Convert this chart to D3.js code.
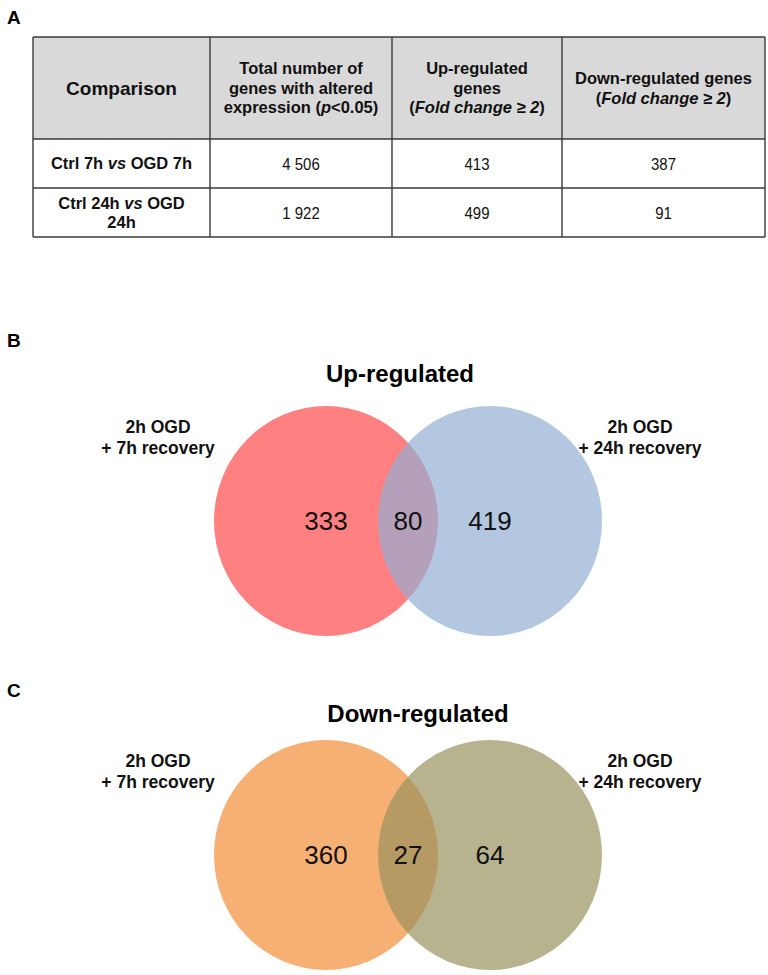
<!DOCTYPE html>
<html>
<head>
<meta charset="utf-8">
<script src="https://cdn.jsdelivr.net/npm/d3@7"></script>
<style>
  html, body { margin: 0; padding: 0; background: #fff; }
  svg { display: block; }
</style>
</head>
<body>
<svg id="chart" width="768" height="975"></svg>
<script>
// ---------- DATA ----------
const tableColumns = ["Comparison", "Total", "Up", "Down"];
const headerLines = [
  [[{t: "Comparison"}]],
  [[{t: "Total number of"}], [{t: "genes with altered"}], [{t: "expression ("}, {t: "p", i: true}, {t: "<0.05)"}]],
  [[{t: "Up-regulated"}], [{t: "genes"}], [{t: "("}, {t: "Fold change ≥ 2", i: true}, {t: ")"}]],
  [[{t: "Down-regulated genes"}], [{t: "("}, {t: "Fold change ≥ 2", i: true}, {t: ")"}]]
];
const rowLabels = [
  [[{t: "Ctrl 7h "}, {t: "vs", i: true}, {t: " OGD 7h"}]],
  [[{t: "Ctrl 24h "}, {t: "vs", i: true}, {t: " OGD"}], [{t: "24h"}]]
];
const totalGenes = ["4 506", "1 922"];
const upGenes = ["413", "499"];
const downGenes = ["387", "91"];

const setNames = [["2h OGD", "+ 7h recovery"], ["2h OGD", "+ 24h recovery"]];
const upRegions = [333, 80, 419];     // only 7h, both, only 24h
const downRegions = [360, 27, 64];
const upColors = ["#ff8080", "#92aed4"];
const downColors = ["#f7b073", "#96915d"];

// ---------- LAYOUT ----------
const svg = d3.select("#chart");
const font = "'Liberation Sans', Arial, sans-serif";

// panel letters
[["A", 24], ["B", 347], ["C", 697]].forEach(([l, y]) => {
  svg.append("text").attr("x", 7).attr("y", y).text(l)
    .attr("font-family", font).attr("font-weight", "bold").attr("font-size", 19).attr("fill", "#000");
});

// ---------- TABLE ----------
const colEdges = [33, 210, 392, 562, 765];
const rowEdges = [37, 139, 188, 237];
const tbl = svg.append("g");

tbl.append("rect").attr("x", colEdges[0]).attr("y", rowEdges[0])
  .attr("width", colEdges[4] - colEdges[0]).attr("height", rowEdges[1] - rowEdges[0])
  .attr("fill", "#d9d9d9");

colEdges.forEach(x => tbl.append("line").attr("x1", x).attr("x2", x).attr("y1", rowEdges[0]).attr("y2", rowEdges[3])
  .attr("stroke", "#3a3a3a").attr("stroke-width", 1.4));
rowEdges.forEach(y => tbl.append("line").attr("x1", colEdges[0]).attr("x2", colEdges[4]).attr("y1", y).attr("y2", y)
  .attr("stroke", "#3a3a3a").attr("stroke-width", 1.4));

function cellText(colIdx, yTop, yBot, lines, opts) {
  const cx = (colEdges[colIdx] + colEdges[colIdx + 1]) / 2;
  const lh = opts.lh;
  const cy = (yTop + yBot) / 2;
  const start = cy - (lines.length - 1) * lh / 2 + opts.size * 0.36;
  lines.forEach((parts, li) => {
    const t = tbl.append("text")
      .attr("transform", `translate(${cx},${start + li * lh}) scale(${opts.sx || 1},1)`)
      .attr("text-anchor", "middle").attr("font-family", font)
      .attr("font-size", opts.size).attr("font-weight", opts.weight).attr("fill", "#111");
    parts.forEach(p => t.append("tspan").text(p.t).attr("font-style", p.i ? "italic" : "normal"));
  });
}

headerLines.forEach((lines, i) => cellText(i, rowEdges[0], rowEdges[1], lines,
  {size: i === 0 ? 19 : 16.5, weight: "bold", lh: 19.5}));
rowLabels.forEach((lines, r) => {
  const y0 = rowEdges[r + 1], y1 = rowEdges[r + 2];
  cellText(0, y0, y1, lines, {size: 16.5, weight: "bold", lh: 19});
  cellText(1, y0, y1, [[{t: totalGenes[r]}]], {size: 17, weight: "normal", lh: 19, sx: 0.88});
  cellText(2, y0, y1, [[{t: upGenes[r]}]], {size: 17, weight: "normal", lh: 19, sx: 0.88});
  cellText(3, y0, y1, [[{t: downGenes[r]}]], {size: 17, weight: "normal", lh: 19, sx: 0.88});
});

// ---------- VENN ----------
function venn(title, regions, colors, cy, titleX, titleY) {
  const g = svg.append("g");
  const xs = d3.scaleLinear().domain([0, 1]).range([326, 490]);
  const rx = 112, ry = 115;
  g.append("text").attr("x", titleX).attr("y", titleY).attr("text-anchor", "middle")
    .attr("font-family", font).attr("font-weight", "bold").attr("font-size", 24).attr("fill", "#000")
    .text(title);
  [0, 1].forEach(i => {
    g.append("ellipse").attr("cx", xs(i)).attr("cy", cy).attr("rx", rx).attr("ry", ry)
      .attr("fill", colors[i]).attr("fill-opacity", i === 0 ? 1 : 0.69);
  });
  const labelX = [xs(0), xs(0.5), xs(1)];
  regions.forEach((v, i) => {
    g.append("text").attr("x", labelX[i]).attr("y", cy + 9).attr("text-anchor", "middle")
      .attr("font-family", font).attr("font-size", 26).attr("fill", "#111").text(v);
  });
  const nameX = [158, 640];
  setNames.forEach((lines, i) => {
    lines.forEach((l, li) => {
      g.append("text").attr("x", nameX[i]).attr("y", cy - 88 + li * 21).attr("text-anchor", "middle")
        .attr("font-family", font).attr("font-weight", "bold").attr("font-size", 17.5).attr("fill", "#111")
        .text(l);
    });
  });
}

venn("Up-regulated", upRegions, upColors, 521, 400, 382);
venn("Down-regulated", downRegions, downColors, 855, 418, 722);
</script>
</body>
</html>
